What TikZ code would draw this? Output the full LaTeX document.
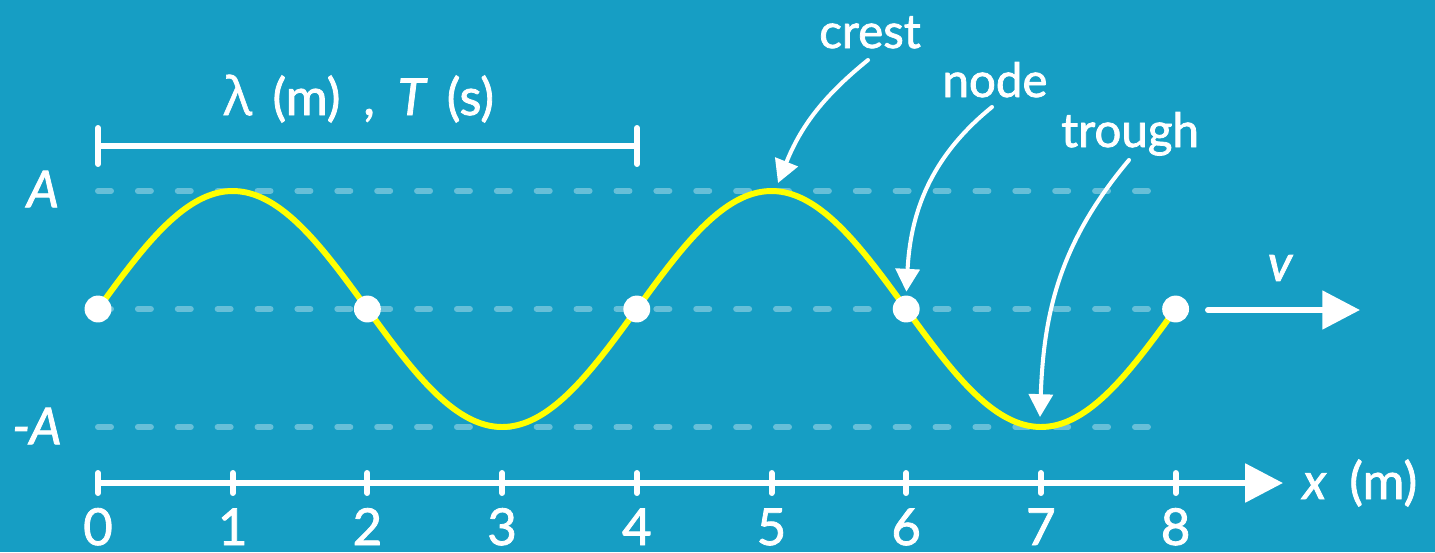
\documentclass[tikz,border=0pt]{standalone}
\usepackage{fontspec}
\setmainfont{Lato}[BoldFont=*, BoldFeatures={FakeBold=1.6},
                   BoldItalicFont=* Italic, BoldItalicFeatures={FakeBold=1.6}]
\newfontfamily\greekfont{Open Sans}[FakeBold=1.2]
\usetikzlibrary{arrows.meta,positioning,calc}
\definecolor{cbg}{HTML}{169EC4}
\definecolor{cwave}{HTML}{FFFF00}

\begin{document}
\begin{tikzpicture}[
    x=0.02cm, y=-0.02cm,
    lbl/.style={text=white, inner sep=0pt, font=\fontsize{27}{30}\selectfont\bfseries},
    ilbl/.style={lbl, font=\fontsize{27}{30}\selectfont\bfseries\itshape},
    biglbl/.style={lbl, font=\fontsize{29}{30}\selectfont\bfseries},
    guide/.style={draw=white, draw opacity=0.35, line width=3.4pt, line cap=round,
                  dash pattern=on 7.4pt off 15.3pt},
    wave/.style={draw=cwave, line width=3.4pt},
    dot/.style={circle, fill=white, minimum size=15.3pt, inner sep=0pt},
    bar/.style={draw=white, line width=3.4pt, line cap=round},
    axis/.style={draw=white, line width=3.4pt, line cap=round,
                 -{Triangle[length=21.5pt,width=21.5pt]}},
    ann/.style={draw=white, line width=2.3pt, line cap=round,
                -{Triangle[length=13pt,width=13.6pt]}}
]
\fill[cbg] (0,0) rectangle (1435,552);
\useasboundingbox (0,0) rectangle (1435,552);

% guide lines for A, 0 and -A
\coordinate (topL) at (98,191);  \coordinate (topR) at (1151,191);
\coordinate (midL) at (98,309);  \coordinate (midR) at (1151,309);
\coordinate (botL) at (98,427);  \coordinate (botR) at (1151,427);
\draw[guide] (topL) -- (topR);
\draw[guide] (midL) -- (midR);
\draw[guide] (botL) -- (botR);
\node[ilbl, font=\fontsize{29}{30}\selectfont\bfseries\itshape] (albl) at (43,189) {A};
\node[ilbl, font=\fontsize{29}{30}\selectfont\bfseries\itshape] (malbl) at (37,426) {-A};

% the wave
\draw[wave] plot[domain=0:8, samples=161, smooth] ({98+134.7*\x},{309-118*sin(90*\x)});
\foreach \i in {0,2,4,6,8}
    \node[dot] (n\i) at ({98+134.7*\i},309) {};

% wavelength bar
\coordinate (lamL) at (98,146);
\coordinate (lamR) at (637,146);
\draw[bar] (lamL) -- (lamR);
\draw[bar] ($(lamL)+(0,-18)$) -- ($(lamL)+(0,18)$);
\draw[bar] ($(lamR)+(0,-18)$) -- ($(lamR)+(0,18)$);
\node[biglbl, anchor=base] (lamlbl) at (359,115)
    {{\greekfont\mdseries\fontsize{30}{30}\selectfont λ}\hspace{0.4em}(m)\hspace{0.45em},\hspace{0.45em}\textit{T}\hspace{0.38em}(s)};

% annotations
\node[lbl, anchor=base] (crestlbl) at (870,48) {crest};
\node[lbl, anchor=base] (nodelbl) at (995,97) {node};
\node[lbl, anchor=base] (troughlbl) at (1130,147) {trough};
\coordinate (crestpt) at (778,183);
\coordinate (troughpt) at (1040,417);
\draw[ann] ($(crestlbl.base)+(-2,12)$) to[out=219,in=68] (crestpt);
\draw[ann, shorten >=2pt] ($(nodelbl.base)+(-3,10)$) to[out=219,in=87] (n6.north);
\draw[ann] ($(troughlbl.base)+(-1,13)$) to[out=230,in=88] (troughpt);

% velocity
\coordinate (vs) at (1208,310);
\coordinate (ve) at (1360,310);
\draw[axis] (vs) -- (ve);
\node[ilbl, font=\fontsize{29}{30}\selectfont\bfseries\itshape] (vlbl) at (1280,268) {v};

% x axis
\coordinate (ax0) at (98,483);
\coordinate (axend) at (1283,483);
\draw[axis] (ax0) -- (axend);
\foreach \i in {0,...,8} {
    \coordinate (t\i) at ({98+134.7*\i},483);
    \draw[bar] ($(t\i)+(0,-10)$) -- ($(t\i)+(0,10)$);
    \node[biglbl, anchor=base] (num\i) at ($(t\i)+(0,62)$) {\i};
}
\node[biglbl, right=11pt of axend] (xlbl) {\textit{x}\hspace{0.45em}(m)};
\end{tikzpicture}
\end{document}
